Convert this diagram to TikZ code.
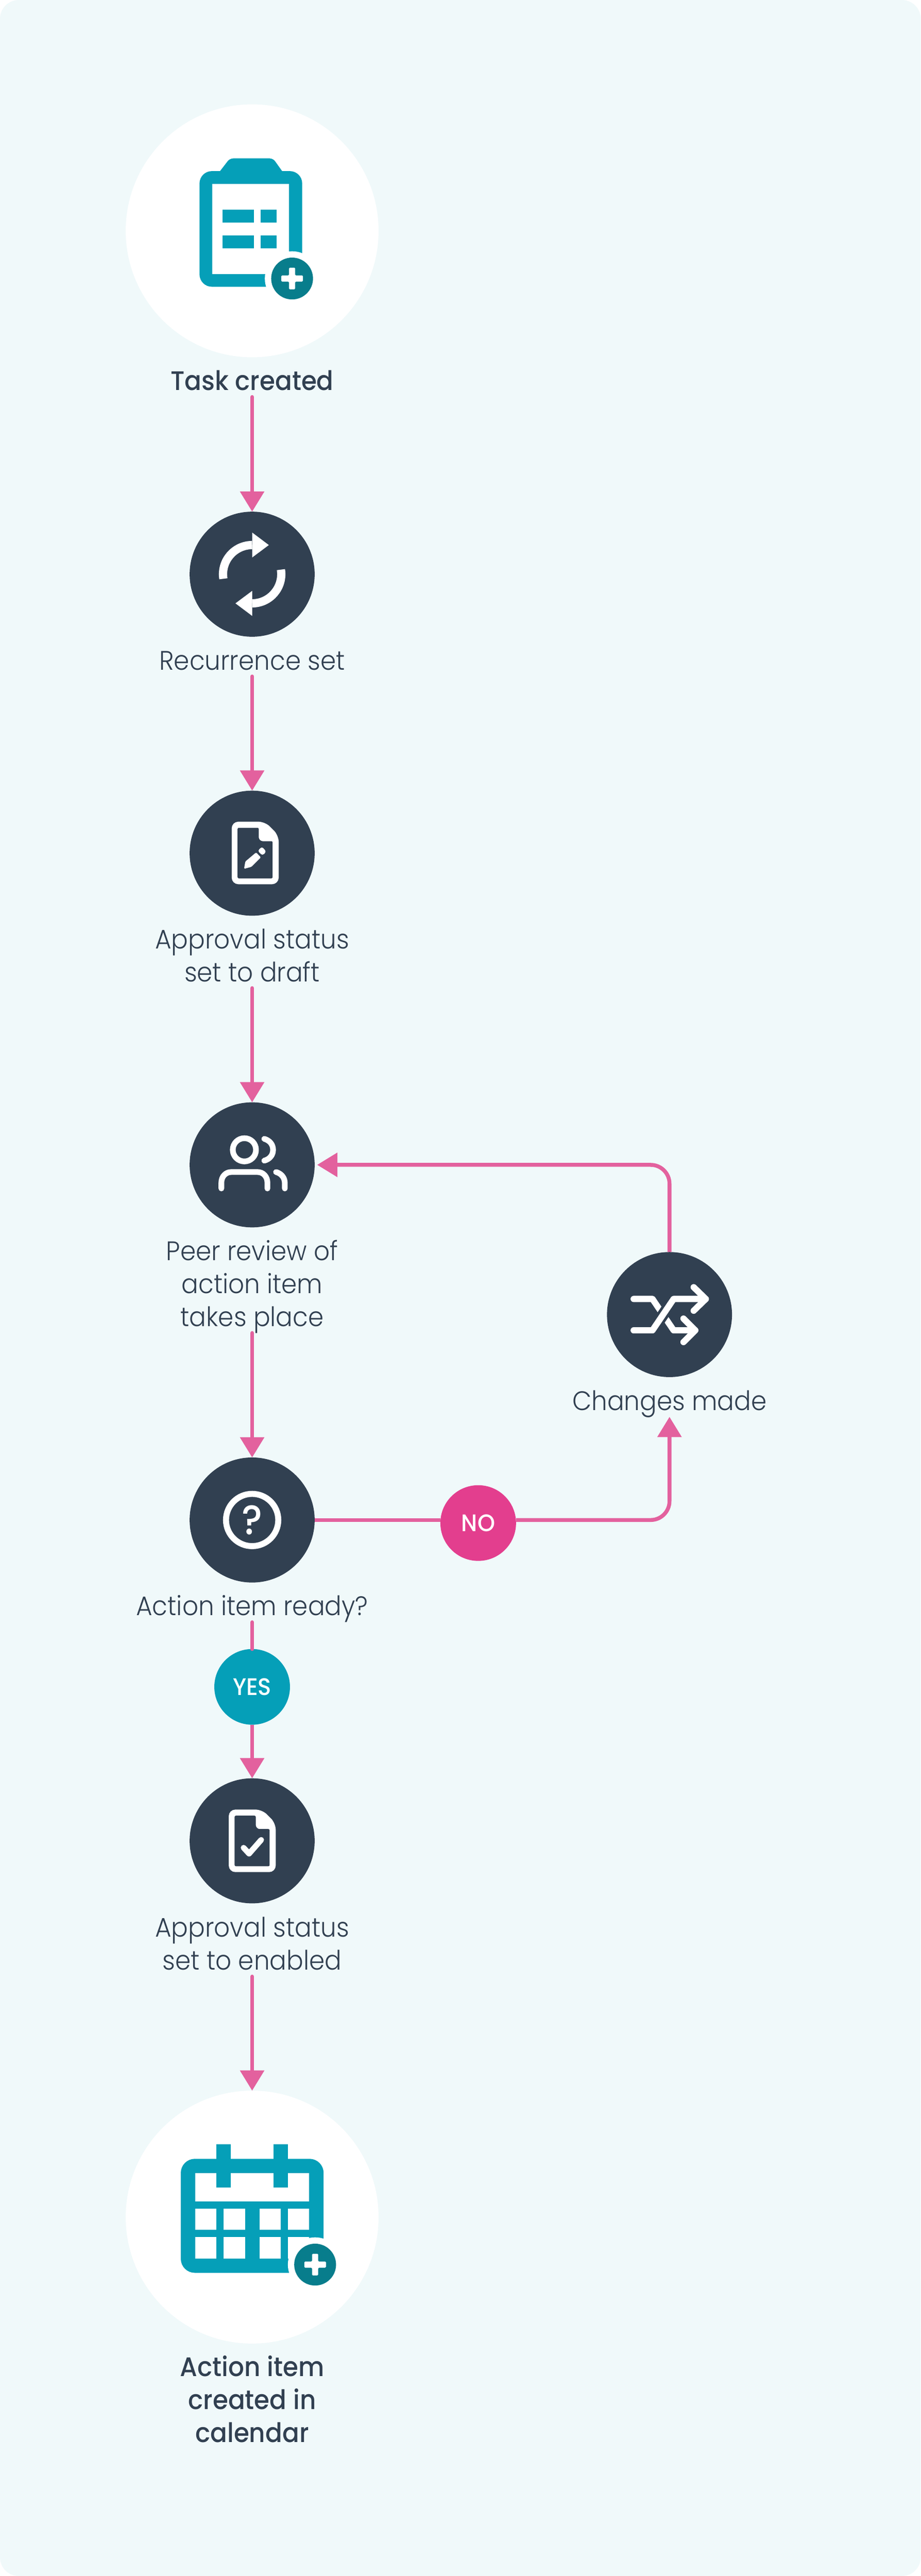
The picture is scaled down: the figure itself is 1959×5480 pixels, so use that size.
\documentclass[tikz,border=0pt]{standalone}
\usepackage{fontspec}
\setmainfont{Poppins}[UprightFont={* Light},BoldFont={* Medium},FakeStretch=0.93]
\usetikzlibrary{arrows.meta}
\definecolor{pagetint}{HTML}{F0F9FA}
\definecolor{slate}{HTML}{314051}
\definecolor{flowpink}{HTML}{E3619E}
\definecolor{nopink}{HTML}{E33E8E}
\definecolor{teal}{HTML}{059FB8}
\definecolor{deepteal}{HTML}{087D8C}
\newcommand{\pxsize}{0.02cm}
\newcommand{\makebadge}[2]{
	\fill[white] (#1,#2) circle (58);
	\fill[deepteal] (#1,#2) circle (44.5);
	\fill[white, rounded corners=1pt] (#1-23,#2-6.5) -- ++(16.5,0) -- ++(0,-16.5) -- ++(13,0) -- ++(0,16.5) -- ++(16.5,0) -- ++(0,13) -- ++(-16.5,0) -- ++(0,16.5) -- ++(-13,0) -- ++(0,-16.5) -- ++(-16.5,0) -- cycle;
}
\newcommand{\makedoc}[2]{
	\begin{scope}[shift={(#1,#2)}]
	\fill[white, rounded corners=8pt] (0,0) -- (71,0) -- (100,29) -- (100,133) -- (0,133) -- cycle;
	\fill[slate, rounded corners=1.5pt] (12.5,13) -- (57.5,13) [rounded corners=5pt] -- (57.5,41.5) [rounded corners=1.5pt] -- (87,41.5) -- (87,120.5) -- (12.5,120.5) -- cycle;
	\end{scope}
}
\newcommand{\makecurl}[1]{
	\begin{scope}[rotate around={#1:(536.5,1221.5)}]
	\draw[white, line width=10pt] (475.3,1231.2) .. controls (469.3,1193.6) and (498.4,1159.5) .. (536.5,1159.5);
	\fill[white] (536.5,1132.8) -- (572,1159.5) -- (536.5,1186) -- cycle;
	\end{scope}
}
\tikzset{
	stepdot/.style={circle, fill=slate, minimum size=266*\pxsize, inner sep=0pt, outer sep=0pt},
	bigdot/.style={circle, fill=white, minimum size=538*\pxsize, inner sep=0pt, outer sep=0pt},
	steptext/.style={anchor=base, align=center, inner sep=0pt, outer xsep=0pt, outer ysep=8pt, text depth=0pt, text=slate, font=\fontsize{32.5}{39.8}\selectfont},
	boldtext/.style={steptext, font=\fontsize{32.5}{39.8}\selectfont\bfseries},
	yesdot/.style={circle, fill=teal, minimum size=161*\pxsize, inner sep=0pt, outer sep=0pt, text=white, font=\fontsize{29}{30}\selectfont\bfseries},
	nodot/.style={yesdot, fill=nopink},
	flow/.style={draw=flowpink, line width=4.7pt, -{Triangle[width=28.5pt,length=24.5pt]}},
	flowline/.style={draw=flowpink, line width=4.7pt},
	fromtext/.style={flow, line cap=round},
	iconline/.style={draw=white, line width=6.9pt, line cap=round, line join=round},
	swapline/.style={draw=white, line width=7.6pt, line cap=round, line join=round},
}

\begin{document}
\begin{tikzpicture}[x=\pxsize,y=-\pxsize]
	\useasboundingbox (0,0) rectangle (1959,5480);
	\fill[white] (0,0) rectangle (1959,5480);
	\fill[pagetint, rounded corners=22.8pt] (0,0) rectangle (1959,5480);

	% circles and texts
	\node[bigdot] (task) at (536.5,491) {};
	\node[boldtext] (tasktext) at (536.5,830.5) {Task created};
	\node[stepdot] (recur) at (536.5,1221.5) {};
	\node[steptext] (recurtext) at (536.5,1425) {Recurrence set};
	\node[stepdot] (draft) at (536.5,1815) {};
	\node[steptext] (drafttext) at (536.5,2088) {Approval status\\set to draft};
	\node[stepdot] (review) at (536.5,2478) {};
	\node[steptext] (reviewtext) at (536.5,2821.7) {Peer review of\\action item\\takes place};
	\node[stepdot] (ask) at (536.5,3233.5) {};
	\node[steptext] (asktext) at (536.5,3437) {Action item ready?};
	\node[stepdot] (changes) at (1424.5,2796.5) {};
	\node[steptext] (changestext) at (1424.5,3000) {Changes made};
	\node[nodot] (no) at (1017.5,3240) {NO};
	\node[yesdot] (yes) at (536.5,3588.5) {YES};
	\node[stepdot] (enabled) at (536.5,3916) {};
	\node[steptext] (enabledtext) at (536.5,4190.7) {Approval status\\set to enabled};
	\node[bigdot] (calendar) at (536.5,4716.5) {};
	\node[boldtext] (calendartext) at (536.5,5195.5) {Action item\\created in\\calendar};

	% connectors
	\draw[fromtext] (tasktext.south) -- (recur.north);
	\draw[fromtext] (recurtext.south) -- (draft.north);
	\draw[fromtext] (drafttext.south) -- (review.north);
	\draw[fromtext] (reviewtext.south) -- (ask.north);
	\draw[flowline, line cap=round] (asktext.south) -- (yes.north);
	\draw[flow] (yes.south) -- (enabled.north);
	\draw[fromtext] (enabledtext.south) -- (calendar.north);
	\draw[flowline] (ask.east) -- (ask.east -| no.west);
	\draw[flow, rounded corners=22.8pt] (no.east |- ask.east) -| (changestext.south);
	\draw[flow, rounded corners=22.8pt, shorten >=3pt] (changes.north) |- (review.east);

	% clipboard
	\fill[teal, rounded corners=15pt] (424.5,364) rectangle (643,610);
	\fill[teal, rounded corners=4pt] (462,372) -- (489,337) -- (581,337) -- (606,372) -- cycle;
	\fill[white] (452,391.5) rectangle (615,582.6);
	\fill[teal] (474,446) rectangle (540.4,473.6);
	\fill[teal] (554.6,446) rectangle (588.6,473.6);
	\fill[teal] (474,500.5) rectangle (540.4,528);
	\fill[teal] (554.6,500.5) rectangle (588.6,528);
	\makebadge{621.5}{592.5}

	% arrows in a ring
	\makecurl{0}
	\makecurl{180}

	% draft sheet
	\makedoc{493}{1748}
	\fill[white, rounded corners=1pt] (519.3,1848.3) -- (522,1832.7) -- (545,1813.3) -- (555,1824) -- (535,1844) -- cycle;
	\fill[white, rounded corners=2.5pt] (548.3,1810) -- (557.3,1801) -- (566.7,1811.7) -- (558.3,1820) -- cycle;

	% two people
	\draw[iconline] (520,2446) circle (24.7);
	\draw[iconline] (471,2528.3) -- (471,2516) .. controls (471,2503) and (480,2493.3) .. (492,2493.3) -- (548,2493.3) .. controls (560,2493.3) and (569,2503) .. (569,2516) -- (569,2528.3);
	\draw[iconline] (562.3,2422.7) .. controls (574,2426) and (581,2435) .. (581,2446) .. controls (581,2457) and (574,2466) .. (562.3,2469);
	\draw[iconline] (587.3,2493.3) .. controls (598,2496) and (606,2505) .. (606,2516.7) -- (606,2528.3);

	% crossing arrows
	\draw[swapline] (1348.3,2763.3) -- (1388.3,2763.3) -- (1433.3,2830) -- (1479.3,2830);
	\draw[swapline] (1454.3,2805) -- (1479.3,2830) -- (1454.3,2855);
	\draw[draw=slate, line width=14pt] (1388.3,2830) -- (1433.3,2763.3);
	\draw[swapline] (1348.3,2830) -- (1388.3,2830) -- (1433.3,2763.3) -- (1501.7,2763.3);
	\draw[swapline] (1476,2738.3) -- (1501.7,2763.3) -- (1476,2788.3);

	% question mark
	\draw[draw=white, line width=7.3pt] (536.5,3233.5) circle (55.6);
	\node[anchor=base, inner sep=0pt, text=white, font=\fontsize{50}{50}\selectfont\bfseries] (mark) at (536.5,3264) {?};

	% enabled sheet
	\makedoc{486.7}{3849.5}
	\draw[iconline] (518.3,3930.7) -- (530,3943.3) -- (555.7,3914);

	% calendar
	\fill[teal, rounded corners=17pt] (384.7,4592.5) rectangle (688.5,4835);
	\fill[white] (415,4623) rectangle (657.5,4683);
	\fill[white] (415,4699) rectangle (460.8,4743.5);
	\fill[white] (476,4699) rectangle (521.3,4743.5);
	\fill[white] (552,4699) rectangle (597,4743.5);
	\fill[white] (612.4,4699) rectangle (657.5,4743.5);
	\fill[white] (415,4759) rectangle (460.8,4804.7);
	\fill[white] (476,4759) rectangle (521.3,4804.7);
	\fill[white] (552,4759) rectangle (597,4804.7);
	\fill[white] (612.4,4759) rectangle (657.5,4804.7);
	\fill[teal] (460.4,4562) rectangle (491,4653.7);
	\fill[teal] (582,4562) rectangle (612.4,4653.7);
	\makebadge{670.5}{4817.5}
\end{tikzpicture}
\end{document}
